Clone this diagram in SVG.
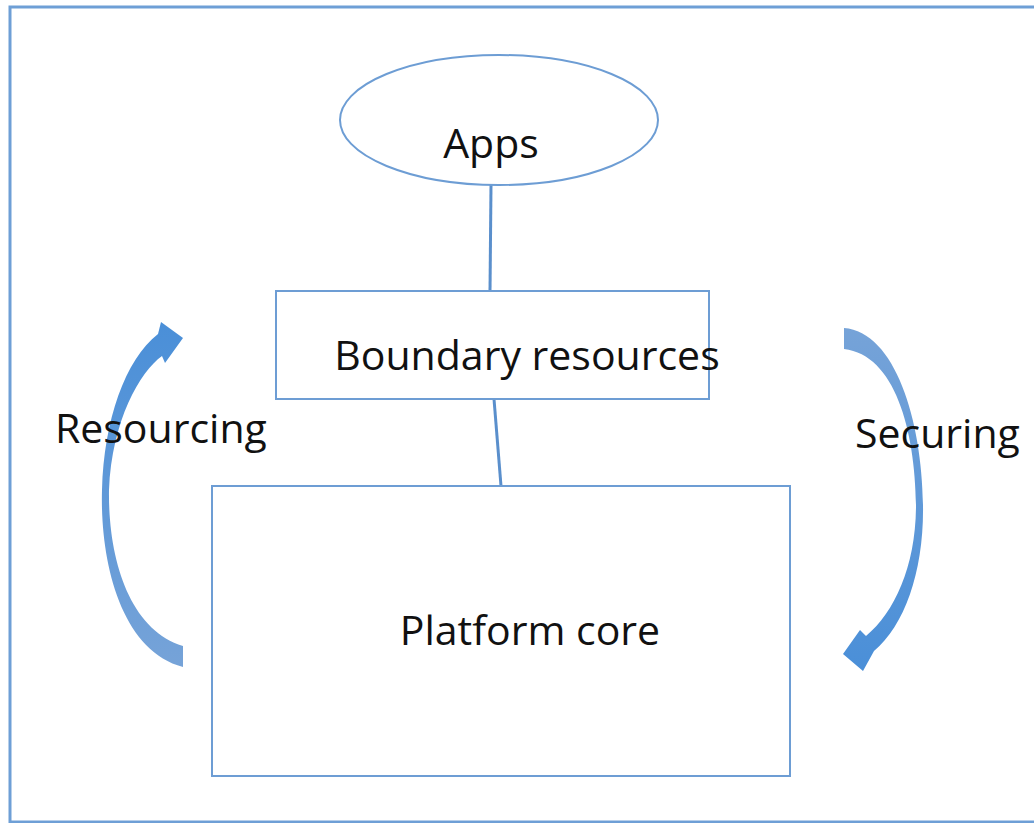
<svg xmlns="http://www.w3.org/2000/svg" width="1034" height="823" viewBox="0 0 1034 823">
<style>
.n{fill:#fff;stroke:#6d9dd4;stroke-width:2}
.t{font-family:"Open Sans","Noto Sans",sans-serif;font-size:41px;fill:#111}
.c{stroke:#5a8fcc;stroke-width:3;fill:none}
</style>
<defs>
<linearGradient id="gl" x1="0" y1="1" x2="0" y2="0">
<stop offset="0" stop-color="#76a3d8"/><stop offset="1" stop-color="#4a8fd8"/>
</linearGradient>
<linearGradient id="gr" x1="0" y1="0" x2="0" y2="1">
<stop offset="0" stop-color="#76a3d8"/><stop offset="1" stop-color="#4a8fd8"/>
</linearGradient>
</defs>
<rect x="10" y="7" width="1030" height="815" fill="#fff" stroke="#6e9fd6" stroke-width="3"/>
<g id="connectors">
<line class="c" x1="491" y1="185" x2="490" y2="292"/>
<line class="c" x1="494" y1="399" x2="501" y2="486"/>
</g>
<g id="apps">
<ellipse class="n" cx="499" cy="120" rx="159" ry="65"/>
<text class="t" x="491" y="158" text-anchor="middle">Apps</text>
</g>
<g id="boundary">
<rect class="n" x="276" y="291" width="433" height="108"/>
<text class="t" x="527" y="370" text-anchor="middle">Boundary resources</text>
</g>
<g id="core">
<rect class="n" x="212" y="486" width="578" height="290"/>
<text class="t" x="530" y="645" text-anchor="middle">Platform core</text>
</g>
<g id="resourcing">
<path fill="url(#gl)" d="M183,667 C120,650 100,560 102,490 C104,420 125,360 158,334 L161,322 L183,338 L165,363 L162,356 C140,372 112,420 109,490 C108,560 130,630 183,646 Z"/>
<text class="t" x="55" y="443">Resourcing</text>
</g>
<g id="securing">
<path fill="url(#gr)" d="M844,328 C895,332 922,420 923,505 C924,570 905,625 874,651 L863,671 L843,654 L860,630 L866,636 C895,612 916,565 916,505 C915,430 895,355 844,349 Z"/>
<text class="t" x="855" y="448">Securing</text>
</g>
</svg>
